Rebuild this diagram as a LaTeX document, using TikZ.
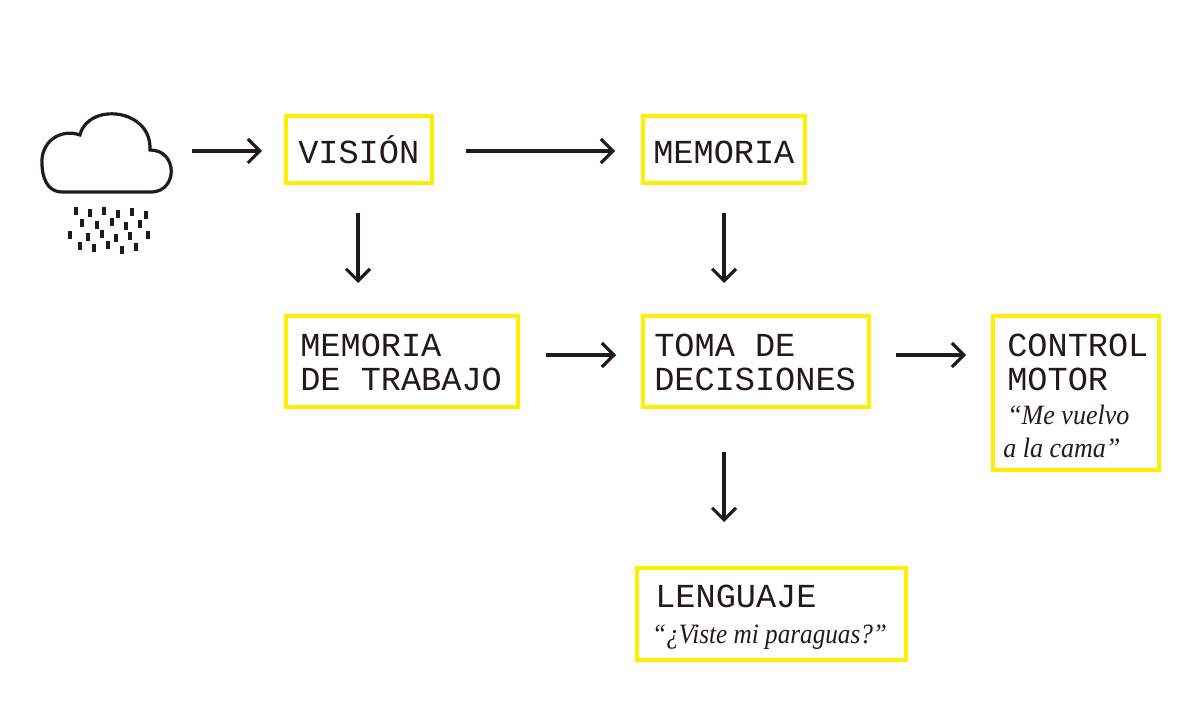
\documentclass[tikz,border=0pt]{standalone}
\usepackage{fontspec}
\newfontfamily\monof{Liberation Mono}
\newfontfamily\serif{Liberation Serif}
\usetikzlibrary{arrows.meta}
\definecolor{ylw}{RGB}{255,238,0}
\definecolor{ink}{RGB}{35,25,25}
\begin{document}
\begin{tikzpicture}[x=0.75pt,y=-0.75pt,
  box/.style={draw=ylw,line width=2.4pt},
  lbl/.style={anchor=base west,inner sep=0pt,text=ink,font=\monof\fontsize{25.2}{27}\selectfont},
  quote/.style={anchor=base west,inner sep=0pt,text=ink,font=\serif\itshape\fontsize{21}{24}\selectfont},
  arr/.style={draw=ink,line width=2.3pt,-{Straight Barb[length=9pt,width=18pt]}}]
\useasboundingbox (0,0) rectangle (1200,723);
\draw[box] (286,116) rectangle (432,183);
\draw[box] (643,116) rectangle (805,183);
\draw[box] (286,316) rectangle (518,407);
\draw[box] (643,316) rectangle (869,407);
\draw[box] (993,316) rectangle (1159,470);
\draw[box] (637,568) rectangle (906,660);
\node[lbl] (v) at (298,164) {VISIÓN};
\node[lbl] (m) at (653,164) {MEMORIA};
\node[lbl] (mt1) at (300,357) {MEMORIA};
\node[lbl] (mt2) at (300,391) {DE TRABAJO};
\node[lbl] (t1) at (654,357) {TOMA DE};
\node[lbl] (t2) at (654,391) {DECISIONES};
\node[lbl] (c1) at (1007,357) {CONTROL};
\node[lbl] (c2) at (1007,391) {MOTOR};
\node[quote,xscale=0.93] (q1) at (1007,425) {“Me vuelvo};
\node[quote,xscale=0.93] (q2) at (1003,458) {a la cama”};
\node[lbl] (l) at (655,607) {LENGUAJE};
\node[quote,xscale=0.9] (q3) at (652,643) {“¿Viste mi paraguas?”};
\coordinate (a1) at (192,151); \coordinate (b1) at (262,151);
\coordinate (a2) at (466,151); \coordinate (b2) at (615,151);
\coordinate (a3) at (358,213); \coordinate (b3) at (358,283);
\coordinate (a4) at (724,213); \coordinate (b4) at (724,283);
\coordinate (a5) at (546,355); \coordinate (b5) at (616,355);
\coordinate (a6) at (896,355); \coordinate (b6) at (966,355);
\coordinate (a7) at (724,452); \coordinate (b7) at (724,522);
\foreach \i in {1,...,7} \draw[arr] (a\i) -- (b\i);
\draw[ink,line width=2.4pt] (62,192) -- (152,192) .. controls (178,191) and (178,150) .. (150,150)
  .. controls (152,108) and (88,102) .. (80,135) .. controls (60,128) and (40,142) .. (42,165)
  .. controls (43,185) and (52,192) .. (62,192);
\foreach \x/\y in {74/207,88/209,102/207,116/210,130/208,144/211,
  80/219,95/221,110/218,124/222,138/220,
  68/231,86/233,100/230,114/234,128/232,146/231,
  78/242,92/244,106/241,120/246,134/243}
  \fill[ink] (\x,\y) rectangle ++(4,8);
\end{tikzpicture}
\end{document}
